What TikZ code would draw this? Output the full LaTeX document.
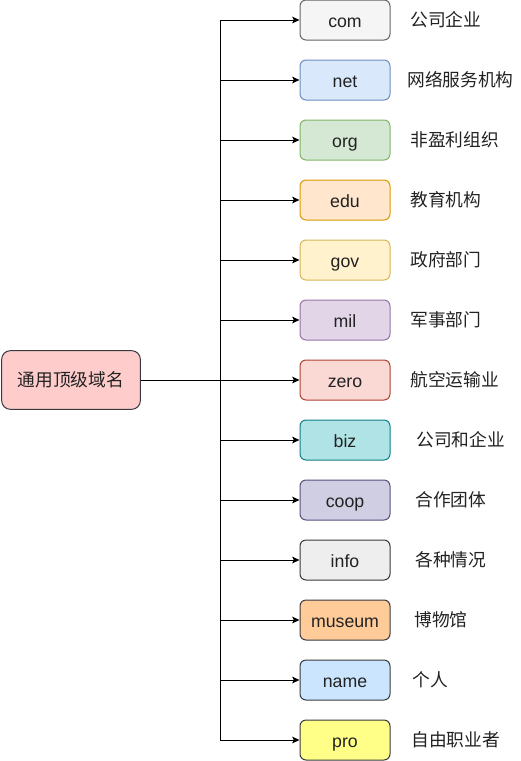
\documentclass[tikz,border=0pt]{standalone}
\usepackage{fontspec}
\setmainfont{Liberation Sans}
\newfontfamily\cjk{Noto Sans CJK SC}
\usetikzlibrary{arrows.meta}

\definecolor{rootfill}{HTML}{FFCCCC}
\definecolor{darkline}{HTML}{36393D}
\definecolor{comfill}{HTML}{F5F5F5}  \definecolor{comline}{HTML}{666666}
\definecolor{netfill}{HTML}{DAE8FC}  \definecolor{netline}{HTML}{6C8EBF}
\definecolor{orgfill}{HTML}{D5E8D4}  \definecolor{orgline}{HTML}{82B366}
\definecolor{edufill}{HTML}{FFE6CC}  \definecolor{eduline}{HTML}{D79B00}
\definecolor{govfill}{HTML}{FFF2CC}  \definecolor{govline}{HTML}{D6B656}
\definecolor{milfill}{HTML}{E1D5E7}  \definecolor{milline}{HTML}{9673A6}
\definecolor{zerofill}{HTML}{FAD9D5} \definecolor{zeroline}{HTML}{AE4132}
\definecolor{bizfill}{HTML}{B0E3E6}  \definecolor{bizline}{HTML}{0E8088}
\definecolor{coopfill}{HTML}{D0CEE2} \definecolor{coopline}{HTML}{56517E}
\definecolor{infofill}{HTML}{EEEEEE}
\definecolor{museumfill}{HTML}{FFCC99}
\definecolor{namefill}{HTML}{CCE5FF}
\definecolor{profill}{HTML}{FFFF88}
\definecolor{txt}{HTML}{222222}

\tikzset{
  tld/.style={draw=darkline,rounded corners=4.5pt,line width=0.75pt,
    minimum width=67.5pt,minimum height=30pt,inner sep=0pt,text=txt,
    text height=12.5pt,text depth=2pt,
    font=\fontsize{13.3}{16}\selectfont},
  meaning/.style={anchor=west,inner sep=0pt,text=txt,
    font=\cjk\fontsize{13.3}{16}\selectfont},
  branch/.style={line width=0.75pt,-{Stealth[length=5.5pt,width=5pt,inset=1.2pt]}}
}

\begin{document}
\begin{tikzpicture}[x=0.75pt,y=-0.75pt]
            \useasboundingbox (0,0) rectangle (521,761);
            \draw (71,380) node[tld,fill=rootfill,minimum width=104pt,
             minimum height=44pt,rounded corners=6.5pt,text height=,text depth=,
             font=\cjk\fontsize{13.3}{16}\selectfont] (root) {通用顶级域名};
            \coordinate (trunk) at (220,380);
            % domain boxes
            \draw (345,20) node[tld,fill=comfill,draw=comline] (com) {com};
            \draw (345,80) node[tld,fill=netfill,draw=netline] (net) {net};
            \draw (345,140) node[tld,fill=orgfill,draw=orgline] (org) {org};
            \draw (345,200) node[tld,fill=edufill,draw=eduline] (edu) {edu};
            \draw (345,260) node[tld,fill=govfill,draw=govline] (gov) {gov};
            \draw (345,320) node[tld,fill=milfill,draw=milline] (mil) {mil};
            \draw (345,380) node[tld,fill=zerofill,draw=zeroline] (zero) {zero};
            \draw (345,440) node[tld,fill=bizfill,draw=bizline] (biz) {biz};
            \draw (345,500) node[tld,fill=coopfill,draw=coopline] (coop) {coop};
            \draw (345,560) node[tld,fill=infofill] (info) {info};
            \draw (345,620) node[tld,fill=museumfill] (museum) {museum};
            \draw (345,680) node[tld,fill=namefill] (name) {name};
            \draw (345,740) node[tld,fill=profill] (pro) {pro};
            % meanings
            \draw (410,20) node[meaning] (comtxt) {公司企业};
            \draw (407,80) node[meaning] (nettxt) {网络服务机构};
            \draw (410,140) node[meaning] (orgtxt) {非盈利组织};
            \draw (410,200) node[meaning] (edutxt) {教育机构};
            \draw (410,260) node[meaning] (govtxt) {政府部门};
            \draw (410,320) node[meaning] (miltxt) {军事部门};
            \draw (410,380) node[meaning] (zerotxt) {航空运输业};
            \draw (416,440) node[meaning] (biztxt) {公司和企业};
            \draw (415,500) node[meaning] (cooptxt) {合作团体};
            \draw (415,560) node[meaning] (infotxt) {各种情况};
            \draw (414,620) node[meaning] (museumtxt) {博物馆};
            \draw (412,680) node[meaning] (nametxt) {个人};
            \draw (411,740) node[meaning] (protxt) {自由职业者};
            % connectors
            \draw[line width=0.75pt] (root.east) -- (trunk);
            \draw[branch] (trunk) |- (com.west);
            \draw[branch] (trunk) |- (net.west);
            \draw[branch] (trunk) |- (org.west);
            \draw[branch] (trunk) |- (edu.west);
            \draw[branch] (trunk) |- (gov.west);
            \draw[branch] (trunk) |- (mil.west);
            \draw[branch] (trunk) -- (zero.west);
            \draw[branch] (trunk) |- (biz.west);
            \draw[branch] (trunk) |- (coop.west);
            \draw[branch] (trunk) |- (info.west);
            \draw[branch] (trunk) |- (museum.west);
            \draw[branch] (trunk) |- (name.west);
            \draw[branch] (trunk) |- (pro.west);
        \end{tikzpicture}
\end{document}
